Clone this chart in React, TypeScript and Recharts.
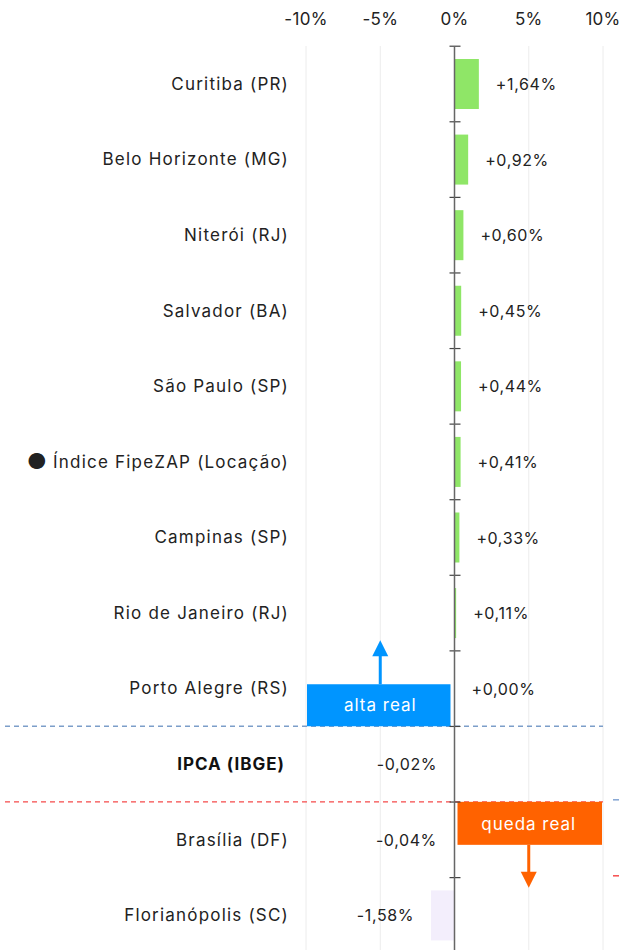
import React from 'react';
import {
  BarChart,
  Bar,
  XAxis,
  YAxis,
  CartesianGrid,
  ReferenceArea,
  ReferenceLine,
  LabelList,
} from 'recharts';

const cities = [
  'Curitiba (PR)',
  'Belo Horizonte (MG)',
  'Niterói (RJ)',
  'Salvador (BA)',
  'São Paulo (SP)',
  'Índice FipeZAP (Locação)',
  'Campinas (SP)',
  'Rio de Janeiro (RJ)',
  'Porto Alegre (RS)',
  'IPCA (IBGE)',
  'Brasília (DF)',
  'Florianópolis (SC)',
];
const changes = [1.64, 0.92, 0.6, 0.45, 0.44, 0.41, 0.33, 0.11, 0.0, -0.02, -0.04, -1.58];
const xTicks = [-10, -5, 0, 5, 10];
const IPCA = 'IPCA (IBGE)';
const INDEX = 'Índice FipeZAP (Locação)';

const rows = cities.map((city, i) => ({ city, value: changes[i] }));

const FONT = 'Inter, "Open Sans", sans-serif';
const TEXT = '#222';
const CHART_H = 960;
const TOP = 46;
const BOTTOM = 7;
const BAR = 50;
const BAND = (CHART_H - TOP - BOTTOM) / rows.length;

const fmt = (v: number) =>
  (v >= 0 ? '+' : '-') + Math.abs(v).toFixed(2).replace('.', ',') + '%';

function CityTick(props: any) {
  const { x, y, payload } = props;
  const bold = payload.value === IPCA;
  const isIndex = payload.value === INDEX;
  return (
    <text
      x={bold ? x - 3 : x + 1}
      y={y + 6}
      textAnchor="end"
      fontSize={17}
      letterSpacing={bold ? 1 : 1.2}
      fontFamily={FONT}
      fontWeight={bold ? 700 : 400}
      fill={bold ? '#111' : TEXT}
    >
      {isIndex && (
        <tspan fontSize={22} letterSpacing={0} dy={1}>● </tspan>
      )}
      <tspan dy={isIndex ? -1 : 0}>{payload.value}</tspan>
    </text>
  );
}

// bar plus the small tick on the zero axis at the top of each band
function BarShape(props: any) {
  const { x, y, width, height, value } = props;
  const v = Array.isArray(value) ? value[1] : value;
  const left = width < 0 ? x + width : x;
  const w = Math.abs(width);
  const bandTop = y - (BAND - height) / 2;
  return (
    <g>
      {w > 0 && (
        <rect x={left} y={y} width={w} height={height} fill={v >= 0 ? '#8fe667' : '#f3eefc'} />
      )}
      <line x1={x - 5} x2={x + 6} y1={bandTop} y2={bandTop} stroke="#444" strokeWidth={1.2} />
    </g>
  );
}

function ValueLabel(props: any) {
  const { x, y, width, height, value } = props;
  const end = x + width;
  const pos = value >= 0;
  return (
    <text
      x={pos ? end + 17 : end - 17}
      y={y + height / 2}
      dy={6}
      textAnchor={pos ? 'start' : 'end'}
      fontSize={16}
      letterSpacing={0.6}
      fontFamily={FONT}
      fill={TEXT}
    >
      {fmt(value)}
    </text>
  );
}

// IPCA band: dashed thresholds and the "alta real" / "queda real" callouts
function IpcaBand(props: any) {
  const { x, y, width, height } = props;
  const zero = x + width / 2;
  const top = y;
  const bottom = y + height;
  const leftMid = x + width / 4;
  const rightMid = x + (width * 3) / 4;
  return (
    <g>
      <line x1={5} x2={x + width} y1={top} y2={top} stroke="#7c9ec9" strokeDasharray="5 4" strokeWidth={1.3} />
      <line x1={5} x2={x + width} y1={bottom} y2={bottom} stroke="#f54a4a" strokeDasharray="5 4" strokeWidth={1.3} />
      <line x1={x + width + 10} x2={x + width + 16} y1={bottom - 2} y2={bottom - 2} stroke="#6f96cc" strokeWidth={1.3} />
      <line x1={x + width + 10} x2={x + width + 16} y1={bottom + 74} y2={bottom + 74} stroke="#f53030" strokeWidth={1.3} />

      <rect x={x + 1} y={top - 42} width={zero - 4 - (x + 1)} height={42} fill="#0095ff" />
      <text x={leftMid} y={top - 21} dy={6} textAnchor="middle" fontSize={17} letterSpacing={1} fontFamily={FONT} fill="#fff">
        alta real
      </text>
      <line x1={leftMid} x2={leftMid} y1={top - 42} y2={top - 72} stroke="#0095ff" strokeWidth={3} />
      <polygon points={`${leftMid - 8},${top - 70} ${leftMid + 8},${top - 70} ${leftMid},${top - 86}`} fill="#0095ff" />

      <rect x={zero + 3} y={bottom} width={x + width - 1 - (zero + 3)} height={43} fill="#ff6200" />
      <text x={rightMid} y={bottom + 22} dy={6} textAnchor="middle" fontSize={17} letterSpacing={1} fontFamily={FONT} fill="#fff">
        queda real
      </text>
      <line x1={rightMid} x2={rightMid} y1={bottom + 43} y2={bottom + 72} stroke="#ff6200" strokeWidth={3} />
      <polygon points={`${rightMid - 8},${bottom + 70} ${rightMid + 8},${bottom + 70} ${rightMid},${bottom + 86}`} fill="#ff6200" />
    </g>
  );
}

export default function App() {
  return (
    <div style={{ position: 'absolute', left: 0, top: 0, width: 622, height: 950, overflow: 'hidden', background: '#fff' }}>
      <BarChart
        width={622}
        height={CHART_H}
        data={rows}
        layout="vertical"
        margin={{ top: 0, right: 19, bottom: BOTTOM, left: 0 }}
        barSize={BAR}
      >
        <CartesianGrid horizontal={false} stroke="#ececec" />
        <XAxis
          type="number"
          orientation="top"
          domain={[-10, 10]}
          ticks={xTicks}
          tickFormatter={(v: number) => `${v}%`}
          axisLine={false}
          tickLine={false}
          height={TOP}
          tick={{ fill: TEXT, fontSize: 17, fontFamily: FONT, letterSpacing: 0.3 }}
          tickMargin={15}
          interval={0}
        />
        <YAxis
          type="category"
          dataKey="city"
          width={306}
          axisLine={false}
          tickLine={false}
          tickSize={0}
          tickMargin={18}
          tick={<CityTick />}
          interval={0}
        />
        <ReferenceArea y1={IPCA} y2={IPCA} ifOverflow="visible" shape={<IpcaBand />} />
        <ReferenceLine x={0} stroke="#666" strokeWidth={1.5} />
        <Bar dataKey="value" isAnimationActive={false} shape={<BarShape />}>
          <LabelList dataKey="value" content={<ValueLabel />} />
        </Bar>
      </BarChart>
    </div>
  );
}
